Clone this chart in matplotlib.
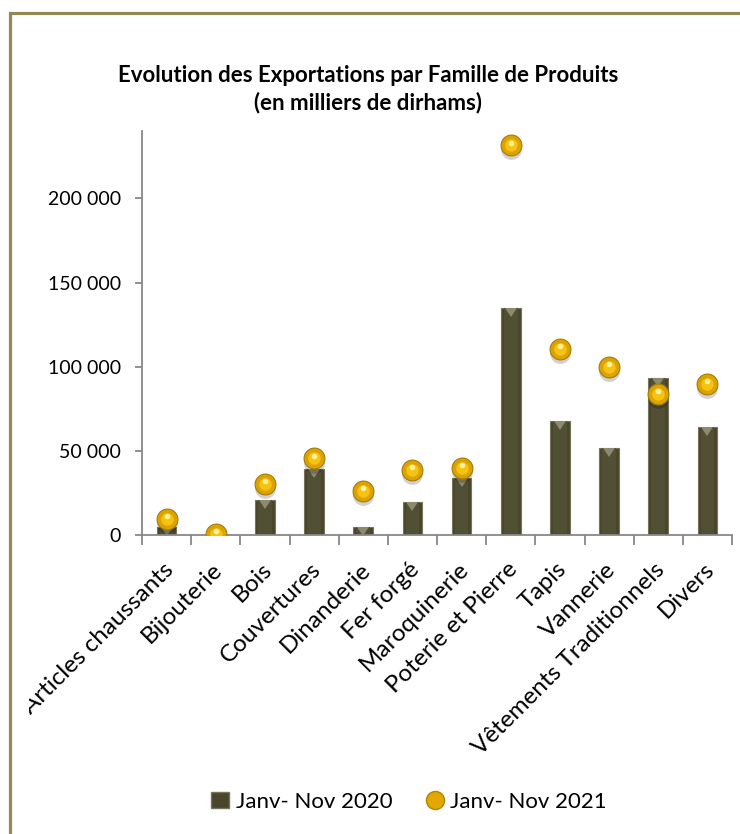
import matplotlib
matplotlib.use("Agg")
import matplotlib.pyplot as plt
import matplotlib.patches as mpatches
import matplotlib.transforms as mtransforms
from matplotlib.lines import Line2D
from matplotlib.ticker import FuncFormatter, FixedLocator

categories = ["Articles chaussants", "Bijouterie", "Bois", "Couvertures", "Dinanderie",
              "Fer forgé", "Maroquinerie", "Poterie et Pierre", "Tapis", "Vannerie",
              "Vêtements Traditionnels", "Divers"]
values_2020 = [5000, 300, 21000, 39500, 4500, 19500, 34000, 135000, 67500, 51500, 93000, 64000]
values_2021 = [9500, 700, 30500, 45500, 26300, 38600, 40000, 231500, 110500, 100000, 84000, 89700]
series_labels = ["Janv- Nov 2020", "Janv- Nov 2021"]
title_text = "Evolution des Exportations par Famille de Produits\n(en milliers de dirhams)"
yticks = [0, 50000, 100000, 150000, 200000]

plt.rcParams['font.family'] = ['Lato', 'DejaVu Sans']

W, H = 740, 834
fig = plt.figure(figsize=(W / 100, H / 100), dpi=100)
ax = fig.add_axes([142 / W, 1 - 535 / H, (732 - 142) / W, (535 - 131) / H])

x = list(range(len(categories)))
bar_color = "#4a462c"
bars = ax.bar(x, values_2020, width=0.4, color=bar_color, edgecolor="#77735c",
              linewidth=0.8, zorder=2)
# inner lighter strip to suggest bevel
ax.bar(x, values_2020, width=0.28, color="#525034", linewidth=0, zorder=2.1)
# top bevel triangles (hanging below the bar top)
ax.plot(x, values_2020, linestyle="none", marker=11, markersize=9,
        color="#8e8a70", markeredgewidth=0, zorder=2.2)

# spheres with shadow and highlight
shadow_tr = mtransforms.offset_copy(ax.transData, fig=fig, x=0, y=-3, units="points")
ax.plot(x, values_2021, linestyle="none", marker="o", markersize=15,
        color="#000000", alpha=0.18, markeredgewidth=0, transform=shadow_tr, zorder=3)
ax.plot(x, values_2021, linestyle="none", marker="o", markersize=15,
        markerfacecolor="#dca200", markeredgecolor="#a67c00", markeredgewidth=0.8, zorder=4)
ax.plot(x, values_2021, linestyle="none", marker="o", markersize=9,
        color="#f6c410", markeredgewidth=0, zorder=4.1)
hl_tr = mtransforms.offset_copy(ax.transData, fig=fig, x=0, y=2, units="points")
ax.plot(x, values_2021, linestyle="none", marker="o", markersize=4,
        color="#fff09a", markeredgewidth=0, transform=hl_tr, zorder=4.2)

ax.set_xlim(-0.5, len(categories) - 0.5)
ax.set_ylim(0, 240000)

for s in ["top", "right"]:
    ax.spines[s].set_visible(False)
axis_col = "#888888"
for s in ["left", "bottom"]:
    ax.spines[s].set_color(axis_col)
    ax.spines[s].set_linewidth(1.3)

ax.yaxis.set_major_locator(FixedLocator(yticks))
ax.yaxis.set_major_formatter(FuncFormatter(lambda v, p: f"{int(v):,}".replace(",", " ")))
ax.tick_params(axis="y", direction="out", length=5, width=1.3, color=axis_col,
               labelsize=14, pad=10, labelcolor="#000000")

ax.set_xticks(x)
ax.set_xticklabels(categories, rotation=45, ha="right", rotation_mode="anchor")
ax.tick_params(axis="x", which="major", length=0, labelsize=17.5, pad=17)
ax.set_xticks([i - 0.5 for i in range(len(categories) + 1)], minor=True)
ax.tick_params(axis="x", which="minor", direction="out", length=7, width=1.3, color=axis_col)
offset = mtransforms.ScaledTranslation(-4 / 100, 0, fig.dpi_scale_trans)
clip = mtransforms.TransformedBbox(mtransforms.Bbox([[29 / W, 0], [1, 1]]), fig.transFigure)
for lab in ax.get_xticklabels():
    lab.set_transform(lab.get_transform() + offset)
    lab.set_clip_box(clip)
    lab.set_clip_on(True)

fig.text(368 / W, 1 - 89 / H, title_text, ha="center", va="center",
         fontsize=16, fontweight="bold", linespacing=1.3)

h1 = mpatches.Patch(facecolor=bar_color, edgecolor="#77735c")
h2 = Line2D([], [], linestyle="none", marker="o", markersize=13,
            markerfacecolor="#e2a800", markeredgecolor="#b08400")
fig.legend([h1, h2], series_labels, loc="center", bbox_to_anchor=(409 / W, 1 - 802 / H),
           ncol=2, frameon=False, fontsize=16, handlelength=0.8, handletextpad=0.3,
           columnspacing=1.5)

frame = mpatches.Rectangle((9.5 / W, -0.1), 2, 1 - 12.5 / H + 0.1, transform=fig.transFigure,
                           fill=False, edgecolor="#938953", linewidth=2.3)
fig.patches.append(frame)

fig.savefig("out.png", dpi=100, facecolor="white")
